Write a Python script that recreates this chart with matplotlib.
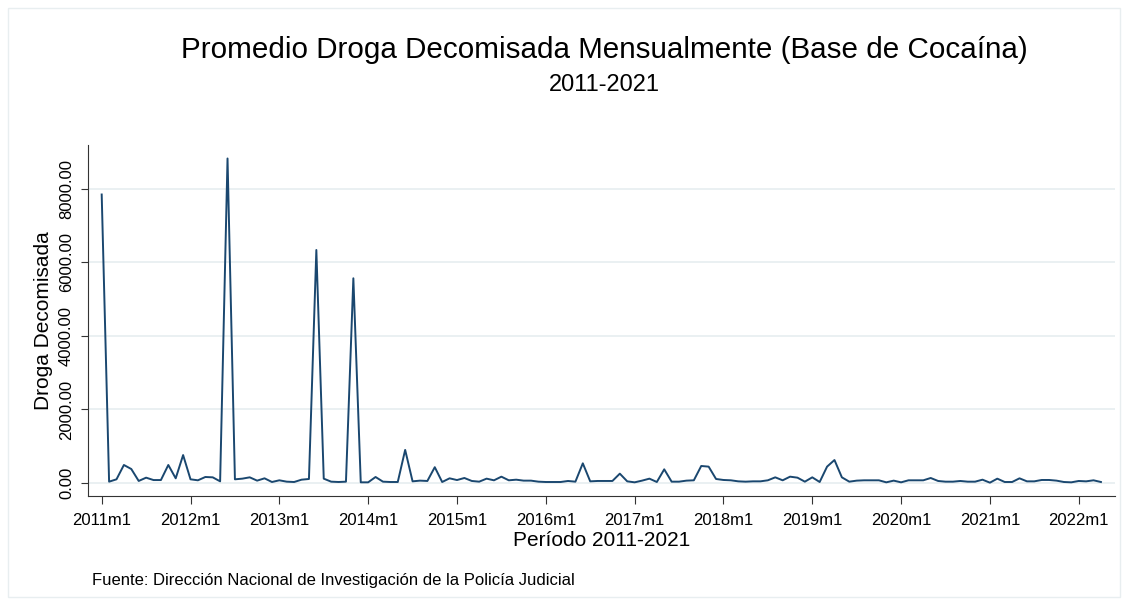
import numpy as np
import matplotlib.pyplot as plt
from matplotlib.patches import Rectangle

plt.rcParams['font.family'] = ['Liberation Sans', 'DejaVu Sans']

# promedio mensual decomisado, desde 2011m1 hasta 2022m4
valores = [7850, 36, 100, 490, 380, 55, 145, 80, 80, 490, 127, 760,
           100, 73, 163, 154, 45, 8830, 100, 118, 154, 64, 127, 27,
           73, 36, 27, 90, 109, 6340, 118, 36, 27, 36, 5570, 18,
           18, 163, 36, 27, 27, 900, 45, 64, 55, 430, 27, 127,
           80, 136, 55, 36, 118, 73, 172, 73, 90, 64, 64, 36,
           27, 27, 27, 55, 36, 535, 45, 55, 55, 55, 254, 45,
           18, 64, 118, 27, 372, 36, 36, 64, 73, 463, 445, 109,
           82, 73, 45, 36, 45, 45, 73, 154, 73, 172, 145, 36,
           154, 27, 445, 625, 154, 36, 64, 73, 73, 73, 18, 64,
           18, 73, 73, 73, 136, 55, 36, 36, 55, 36, 36, 90,
           9, 118, 27, 27, 127, 45, 45, 82, 82, 64, 27, 18,
           55, 45, 73, 27]
anios = ['2011m1', '2012m1', '2013m1', '2014m1', '2015m1', '2016m1',
         '2017m1', '2018m1', '2019m1', '2020m1', '2021m1', '2022m1']
y_ticks = [0, 2000, 4000, 6000, 8000]

meses = np.arange(len(valores))

fig = plt.figure(figsize=(11.29, 6.05), dpi=100)
ax = fig.add_axes([88/1129, 1 - 496/605, (1115 - 88)/1129, (496 - 145)/605])

ax.plot(meses, valores, color='#1a476f', lw=1.4)

ax.set_xlim(-1.85, 136.9)
ax.set_ylim(-354, 9197)

ax.set_xticks(np.arange(len(anios)) * 12)
ax.set_xticklabels(anios, fontsize=12)
ax.set_yticks(y_ticks)
ax.set_yticklabels(['%.2f' % v for v in y_ticks], fontsize=12, rotation=90, va='center')

ax.grid(axis='y', color='#e6eef0', lw=1.2)
ax.set_axisbelow(True)
for s in ['top', 'right']:
    ax.spines[s].set_visible(False)
for s in ['left', 'bottom']:
    ax.spines[s].set_color('#333333')
ax.tick_params(axis='x', length=6, color='#333333', pad=6.3)
ax.tick_params(axis='y', length=5, color='#333333', pad=5)

ax.set_ylabel('Droga Decomisada', fontsize=15)
ax.yaxis.set_label_coords(-(88 - 53) / 1027, 0.5)
ax.set_xlabel('Período 2011-2021', fontsize=15)
ax.xaxis.set_label_coords(0.5, -(531 - 496) / 351)

fig.text(604/1129, 1 - 50/605, 'Promedio Droga Decomisada Mensualmente (Base de Cocaína)',
         ha='center', va='center', fontsize=21.3)
fig.text(604/1129, 1 - 85/605, '2011-2021', ha='center', va='center', fontsize=17)
fig.text(92/1129, 1 - 581/605, 'Fuente: Dirección Nacional de Investigación de la Policía Judicial',
         ha='left', va='center', fontsize=12)

# marco tenue alrededor del grafico
fig.patches.append(Rectangle((8/1129, 8/605), 1112/1129, 589/605, transform=fig.transFigure,
                             fill=False, edgecolor='#e8eef0', lw=1))

fig.savefig('out.png', dpi=100)
